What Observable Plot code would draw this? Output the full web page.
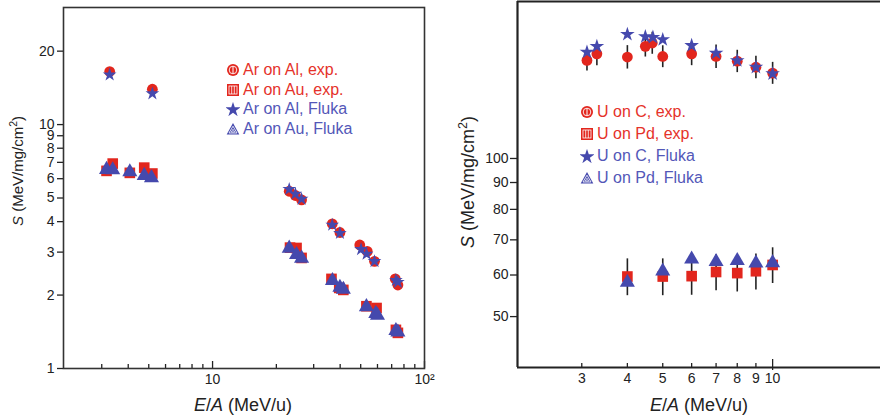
<!DOCTYPE html>
<html><head><meta charset="utf-8">
<script src="https://cdn.jsdelivr.net/npm/d3@7"></script>
<script src="https://cdn.jsdelivr.net/npm/@observablehq/plot@0.6"></script>
<style>
body{margin:0;background:#fff;font-family:"Liberation Sans",Arial,sans-serif;}
#wrap{position:relative;width:880px;height:420px;overflow:hidden;background:#fff;}
.panel{position:absolute;top:0;}
.lbl{position:absolute;color:#222;white-space:nowrap;line-height:20px;}
.rot{transform:translate(-50%,-50%) rotate(-90deg);}
.hx{transform:translateX(-50%);}
.legend{position:absolute;font-size:16px;}
.legend .row{display:flex;align-items:center;white-space:nowrap;}
.legend svg{display:block;margin-right:3px;}
</style>
</head><body><div id="wrap"></div>
<script>
// ---------- Left panel: Ar beams ----------
const arAlExpE   = [3.27, 5.2, 23.0, 24.6, 26.3, 36.7, 39.9, 49.5, 53.7, 58.1, 72.8, 74.9];
const arAlExpS   = [16.5, 13.96, 5.33, 5.12, 4.91, 3.92, 3.61, 3.21, 3.02, 2.75, 2.33, 2.20];
const arAlFlukaE = [3.27, 5.2, 23.0, 24.6, 26.3, 36.7, 39.9, 50.2, 53.3, 58.1, 73.3, 74.9];
const arAlFlukaS = [16.0, 13.4, 5.43, 5.2, 4.95, 3.88, 3.59, 3.08, 2.95, 2.75, 2.30, 2.26];
const arAuExpE   = [3.16, 3.38, 4.07, 4.76, 5.2, 23.2, 24.9, 26.3, 36.4, 39.6, 41.4, 53.2, 59.4, 73.3, 74.9];
const arAuExpS   = [6.46, 6.92, 6.34, 6.66, 6.30, 3.13, 3.12, 2.84, 2.33, 2.14, 2.10, 1.80, 1.77, 1.44, 1.40];
const arAuFlukaE = [3.16, 3.38, 4.07, 4.76, 5.15, 23.0, 24.9, 26.3, 36.8, 39.9, 41.4, 53.2, 58.9, 60.0, 73.3, 74.9];
const arAuFlukaS = [6.54, 6.52, 6.40, 6.18, 6.05, 3.11, 2.93, 2.83, 2.29, 2.15, 2.11, 1.79, 1.68, 1.65, 1.43, 1.41];

const leftYTicks = [1, 2, 3, 4, 5, 6, 7, 8, 9, 10, 20];
const leftXTicks = [10, 100];
const leftXTickLabels = ["10", "10²"];
const leftXMinor = [3, 4, 5, 6, 7, 8, 9, 20, 30, 40, 50, 60, 70, 80, 90];

// ---------- Right panel: U beams ----------
const uCExpE   = [3.1, 3.3, 4.0, 4.48, 4.68, 5.0, 6.0, 7.0, 8.0, 9.0, 10.0];
const uCExpS   = [153.7, 158.2, 156.0, 163.5, 165.9, 156.4, 158.2, 156.4, 153.2, 149.2, 145.4];
const uCExpErr = [7, 8, 8, 7.5, 8, 7.5, 8, 8, 7.5, 7.3, 7];
const uCFlukaE = [3.1, 3.3, 4.0, 4.48, 4.7, 5.0, 6.0, 7.0, 8.0, 9.0, 10.0];
const uCFlukaS = [159.4, 163.5, 172.3, 170.6, 170.1, 168.4, 164.1, 158.7, 153.6, 149.2, 145.0];
const uPdExpE   = [4, 5, 6, 7, 8, 9, 10];
const uPdExpS   = [59.6, 59.6, 59.7, 60.8, 60.5, 61.0, 62.7];
const uPdExpErr = [4.8, 4.8, 4.8, 4.8, 4.8, 4.8, 4.9];
const uPdFlukaE = [4, 5, 6, 7, 8, 9, 10];
const uPdFlukaS = [58.1, 61.0, 64.3, 63.6, 63.9, 63.2, 63.3];

const rightYTicks = [50, 60, 70, 80, 90, 100];
const rightXTicks = [3, 4, 5, 6, 7, 8, 9, 10];

const red = "#e2261d", blue = "#4549ad";
const redText = "#e5322a", blueText = "#5357b8";

const zip = (E, S, Err) => E.map((e, i) => ({e, s: S[i], err: Err ? Err[i] : 0}));
const style = {fontFamily: "Liberation Sans, Arial, sans-serif", fontSize: "14px", color: "#222", background: "white", overflow: "visible"};
const ALL = 1000; // keep every tick label on log scales

const left = Plot.plot({
  width: 440, height: 420,
  marginLeft: 63, marginRight: 16, marginTop: 7, marginBottom: 52,
  style,
  x: {type: "log", domain: [1.98, 100]},
  y: {type: "log", domain: [1, 30.2]},
  marks: [
    Plot.axisY(leftYTicks, {ticks: ALL, tickSize: 6, tickPadding: 3, label: null, tickFormat: d => String(d), strokeWidth: 1.3}),
    Plot.axisX(leftXTicks, {ticks: ALL, tickSize: 0, tickPadding: 6, label: null, tickFormat: d => leftXTickLabels[leftXTicks.indexOf(d)]}),
    Plot.axisX(leftXMinor, {ticks: ALL, tickSize: 4, dy: -4, label: null, tickFormat: () => "", strokeWidth: 1.3}),
    Plot.axisX(leftXTicks, {ticks: ALL, tickSize: 7, dy: -7, label: null, tickFormat: () => "", strokeWidth: 1.3}),
    Plot.dot(zip(arAuExpE, arAuExpS), {x: "e", y: "s", symbol: "square", fill: red, r: 6}),
    Plot.dot(zip(arAlExpE, arAlExpS), {x: "e", y: "s", symbol: "circle", fill: red, r: 5.4}),
    Plot.dot(zip(arAuFlukaE, arAuFlukaS), {x: "e", y: "s", symbol: "triangle", fill: blue, r: 5.6}),
    Plot.dot(zip(arAlFlukaE, arAlFlukaS), {x: "e", y: "s", symbol: "star", fill: blue, r: 4.3}),
    Plot.frame({stroke: "#333", strokeWidth: 1.6})
  ]
});

const right = Plot.plot({
  width: 440, height: 420,
  marginLeft: 77, marginRight: 0, marginTop: 1, marginBottom: 53,
  style,
  x: {type: "log", domain: [2, 19.75]},
  y: {type: "log", domain: [40, 199]},
  marks: [
    Plot.axisY(rightYTicks, {ticks: ALL, tickSize: 7, tickPadding: 2, label: null, tickFormat: d => String(d), strokeWidth: 1.3}),
    Plot.axisX(rightXTicks, {ticks: ALL, tickSize: 0, tickPadding: 6, label: null, tickFormat: d => String(d)}),
    Plot.axisX(rightXTicks.slice(0, -1), {ticks: ALL, tickSize: 4, dy: -4, label: null, tickFormat: () => "", strokeWidth: 1.3}),
    Plot.axisX([10], {ticks: ALL, tickSize: 11, dy: -8, label: null, tickFormat: () => "", strokeWidth: 1.3}),
    Plot.ruleX([2], {stroke: "#222", strokeWidth: 2.2}),
    Plot.ruleY([40], {stroke: "#222", strokeWidth: 2.2}),
    Plot.ruleY([199], {stroke: "#222", strokeWidth: 2.2}),
    Plot.ruleX(zip(uCExpE, uCExpS, uCExpErr), {x: "e", y1: d => d.s - d.err, y2: d => d.s + d.err, stroke: "#222", strokeWidth: 1.6}),
    Plot.ruleX(zip(uPdExpE, uPdExpS, uPdExpErr), {x: "e", y1: d => d.s - d.err, y2: d => d.s + d.err, stroke: "#222", strokeWidth: 1.6}),
    Plot.dot(zip(uPdExpE, uPdExpS), {x: "e", y: "s", symbol: "square", fill: red, r: 6}),
    Plot.dot(zip(uCExpE, uCExpS), {x: "e", y: "s", symbol: "circle", fill: red, r: 5.4}),
    Plot.dot(zip(uPdFlukaE, uPdFlukaS), {x: "e", y: "s", symbol: "triangle", fill: blue, r: 5.6}),
    Plot.dot(zip(uCFlukaE, uCFlukaS), {x: "e", y: "s", symbol: "star", fill: blue, r: 4.6})
  ]
});

const wrap = document.getElementById("wrap");
left.classList.add("panel"); left.style.left = "0px";
right.classList.add("panel"); right.style.left = "440px";
wrap.appendChild(left); wrap.appendChild(right);

// ---------- legends ----------
const sym = {
  circle: `<svg width="14" height="14" viewBox="0 0 14 14"><circle cx="7" cy="7" r="6" fill="${red}"/><circle cx="7" cy="7" r="3.8" fill="none" stroke="#fff" stroke-width="0.9"/><line x1="7" y1="3.4" x2="7" y2="10.6" stroke="#fff" stroke-width="1"/></svg>`,
  square: `<svg width="14" height="14" viewBox="0 0 14 14"><rect x="1" y="1" width="12" height="12" fill="${red}"/><rect x="3" y="3" width="8" height="8" fill="none" stroke="#fff" stroke-width="0.8"/><line x1="5.7" y1="3" x2="5.7" y2="11" stroke="#fff" stroke-width="0.8"/><line x1="8.3" y1="3" x2="8.3" y2="11" stroke="#fff" stroke-width="0.8"/></svg>`,
  star: `<svg width="14" height="14" viewBox="-7 -7 14 14"><path d="${d3.symbol(d3.symbolStar, 70)()}" fill="${blue}" transform="translate(0,0.8)"/></svg>`,
  triangle: `<svg width="14" height="14" viewBox="0 0 14 14"><path d="M7 1 L13.3 12.5 L0.7 12.5 Z" fill="${blue}"/><path d="M7 4.2 L11 11 L3 11 Z" fill="none" stroke="#fff" stroke-width="0.8"/><path d="M7 7.2 L8.7 10 L5.3 10 Z" fill="none" stroke="#fff" stroke-width="0.7"/></svg>`
};
function legend(items, x, y, rowH) {
  const div = document.createElement("div");
  div.className = "legend";
  div.style.left = x + "px"; div.style.top = y + "px";
  div.innerHTML = items.map(([s, label, c]) =>
    `<div class="row" style="height:${rowH}px;color:${c}">${sym[s]}<span>${label}</span></div>`).join("");
  wrap.appendChild(div);
}
const leftLegend = [["circle", "Ar on Al, exp.", redText], ["square", "Ar on Au, exp.", redText], ["star", "Ar on Al, Fluka", blueText], ["triangle", "Ar on Au, Fluka", blueText]];
const rightLegend = [["circle", "U on C, exp.", redText], ["square", "U on Pd, exp.", redText], ["star", "U on C, Fluka", blueText], ["triangle", "U on Pd, Fluka", blueText]];
legend(leftLegend, 226, 60, 19.7);
legend(rightLegend, 580, 100.5, 22);

// ---------- axis titles ----------
function label(html, x, y, size, cls) {
  const d = document.createElement("div");
  d.className = "lbl " + cls;
  d.style.left = x + "px"; d.style.top = y + "px"; d.style.fontSize = size + "px";
  d.innerHTML = html;
  wrap.appendChild(d);
}
const xTitle = "<i>E</i>/<i>A</i> (MeV/u)";
const yTitle = "<i>S</i> (MeV/mg/cm<sup style='font-size:0.7em'>2</sup>)";
label(xTitle, 243, 395, 18, "hx");
label(xTitle, 699, 395, 18, "hx");
label(yTitle, 15, 171, 15, "rot");
label(yTitle, 465, 182, 18, "rot");
</script>
</body></html>
